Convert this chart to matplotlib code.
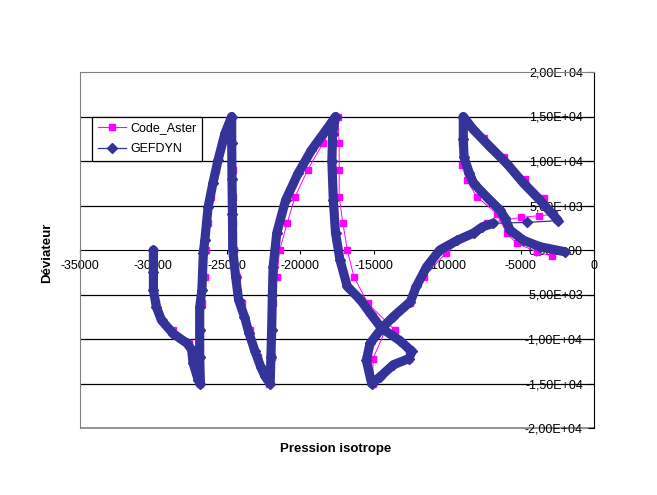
import matplotlib
matplotlib.use("Agg")
import matplotlib.pyplot as plt
from matplotlib.lines import Line2D
from matplotlib.patches import Rectangle

plt.rcParams['font.family'] = ['Liberation Sans', 'DejaVu Sans']

# GEFDYN path (p, q) in Pa
gef_p = [-30000, -30000, -30000, -29800, -29450, -28650, -27700, -27400, -27300, -26950, -26800,
         -26850, -26850, -26850, -26700, -26600, -26500, -26280, -25950, -25600, -25130, -24670,
         -24670, -24650, -24620, -24600, -24400, -24200, -23800, -23500, -23100, -22700, -22400, -22050,
         -22000, -21950, -21900, -21850, -21600, -21000, -20150, -19250, -18100, -17600,
         -17800, -17850, -17750, -17600, -17300, -16800, -15900, -15200, -14460, -13200, -12400, -12600,
         -13670, -14600, -15140,
         -15500, -15250, -14460, -13670, -12500, -12100, -11400, -10500, -9300, -8200, -7600, -6860,
         -4580, -2430,
         -3680, -4800, -5930, -7080, -8200, -8900,
         -8900, -8850, -8500, -8200, -7100, -6400, -6060, -5720, -4820, -3680, -1980]
gef_q = [0, -2500, -4500, -6400, -7900, -9400, -10500, -11200, -12700, -14600, -15000,
         -12000, -9000, -6400, -4500, -300, 1100, 4800, 7500, 10100, 13100, 15000,
         12000, 8000, 4000, 0, -3000, -5600, -7500, -9300, -11300, -13100, -14200, -15000,
         -12000, -9000, -5000, -1900, 1900, 5600, 8600, 11200, 13800, 15000,
         13000, 10000, 5600, 1900, -1100, -4100, -5600, -7200, -8800, -10200, -11400, -12200,
         -12900, -14300, -15000,
         -12400, -10500, -8800, -7500, -5800, -4100, -1900, 0, 1100, 1900, 2600, 3000,
         3100, 3300,
         5600, 7500, 9700, 11600, 13500, 15000,
         12500, 10400, 8700, 7500, 5600, 4500, 3560, 2250, 1100, 370, -200]
GEF_JUMP = (70, 72)  # indices of the thinly drawn jump

# Code_Aster path (p, q) in Pa
ast_p = [-30000, -30000, -29850, -28700, -27550, -27300, -26850,
         -26850, -26800, -26700, -26500, -26450, -26300, -26050, -25750, -25350, -24700,
         -24650, -24600, -24600, -24550, -24500, -24300, -23950, -23400, -22900, -22100,
         -21950, -21900, -21850, -21600, -21400, -20900, -20350, -19500, -18450, -17450,
         -17350, -17350, -17350, -17100, -16800, -16350, -15400, -13550, -12600, -15050,
         -15050, -14200, -12550, -11600, -10050, -8200, -7300, -4970, -3750, -2700,
         -3400, -4700, -6100, -7500, -8950,
         -9000, -9000, -8670, -8000, -6630, -5950, -5270, -3900, -2880]
ast_q = [0, -3000, -6000, -9000, -10400, -12000, -15000,
         -12000, -9000, -6000, -3000, 0, 3000, 6000, 9000, 12000, 15000,
         12000, 9000, 6000, 3000, 0, -3000, -6000, -9000, -12000, -15000,
         -12000, -9000, -6000, -3000, 0, 3000, 6000, 9000, 12000, 15000,
         12000, 9000, 6000, 3000, 0, -3000, -6000, -9000, -12200, -15000,
         -12200, -9000, -6000, -3000, -300, 2060, 3000, 3670, 3850, 4000,
         5800, 8000, 10400, 12600, 15000,
         12000, 9500, 7900, 6000, 4100, 1900, 750, -200, -670]

x_ticks = list(range(-35000, 1, 5000))
y_ticks = list(range(-20000, 20001, 5000))

BLUE = '#333399'
PINK = '#FF00FF'
GRAY = '#808080'

fig = plt.figure(figsize=(6.57, 4.95), dpi=100)
ax = fig.add_axes([80 / 657, 67 / 495, 514 / 657, 356 / 495])
ax.set_xlim(-35000, 0)
ax.set_ylim(-20000, 20000)

# horizontal gridlines
for v in y_ticks[1:-1]:
    if v != 0:
        ax.axhline(v, color='black', lw=0.9, zorder=1)

# Code_Aster
ax.plot(ast_p, ast_q, color=PINK, lw=0.7, marker='s', ms=4.5, mec=PINK, mfc=PINK, zorder=3)

# GEFDYN: dense output looks like a thick band, except the jump
a, b = GEF_JUMP
ax.plot(gef_p[:a + 1], gef_q[:a + 1], color=BLUE, lw=6.6, solid_joinstyle='round',
        solid_capstyle='round', zorder=4)
ax.plot(gef_p[b:], gef_q[b:], color=BLUE, lw=6.6, solid_joinstyle='round',
        solid_capstyle='round', zorder=4)
ax.plot(gef_p, gef_q, color=BLUE, lw=0.9, marker='D', ms=5, mec=BLUE, mfc=BLUE, zorder=5)

# spines: gray frame, black axes through origin
for s in ['left', 'top']:
    ax.spines[s].set_color(GRAY)
ax.spines['right'].set_color('black')
ax.spines['bottom'].set_position(('data', 0))
ax.spines['bottom'].set_color('black')
ax.spines['bottom'].set_zorder(2)
ax.add_patch(Rectangle((0, 0), 1, 0, transform=ax.transAxes, fill=False,
                       edgecolor=GRAY, lw=1.2, clip_on=False))

ax.set_xticks(x_ticks)
ax.set_xticklabels([str(v) for v in x_ticks])
ax.tick_params(axis='x', direction='out', length=3, labelsize=9, pad=4)

ax.yaxis.tick_right()
ax.set_yticks(y_ticks)
ax.set_yticklabels([f"{v:.2E}".replace('.', ',') for v in y_ticks])
ax.tick_params(axis='y', direction='in', length=4, labelsize=9, pad=-8)
for lab in ax.get_yticklabels():
    lab.set_horizontalalignment('right')

fig.text(47 / 657, 1 - 253 / 495, 'Déviateur', rotation=90, fontsize=9.5, fontweight='bold',
         ha='center', va='center')
fig.text(336 / 657, 1 - 449 / 495, 'Pression isotrope', fontsize=9.5, fontweight='bold',
         ha='center', va='center')

handles = [Line2D([], [], color=PINK, lw=0.8, marker='s', ms=5, mec=PINK, mfc=PINK),
           Line2D([], [], color=BLUE, lw=0.9, marker='D', ms=5, mec=BLUE, mfc=BLUE)]
leg = ax.legend(handles, ['Code_Aster', 'GEFDYN'], loc='upper left',
                bbox_to_anchor=(12 / 514, (428 - 116.5) / 356), borderaxespad=0,
                fancybox=False, edgecolor='black', framealpha=1, fontsize=9,
                handlelength=2.3, handletextpad=0.3, labelspacing=0.75, borderpad=0.45)
leg.get_frame().set_linewidth(0.9)
leg.set_zorder(6)

fig.savefig('out.png', dpi=100)
